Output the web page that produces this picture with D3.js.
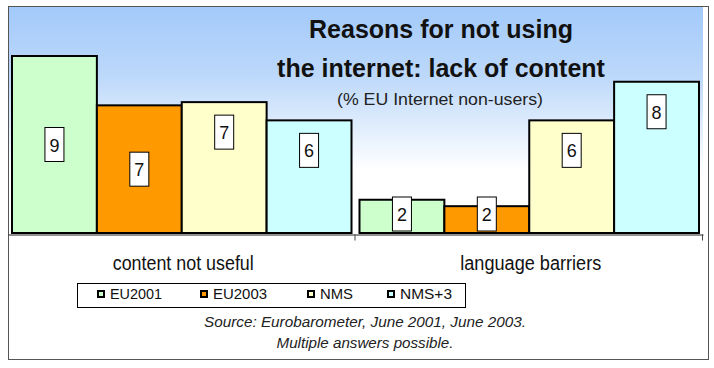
<!DOCTYPE html>
<html>
<head>
<meta charset="utf-8">
<script src="https://cdn.jsdelivr.net/npm/d3@7"></script>
<style>
  html, body { margin: 0; padding: 0; background: #fff; }
  svg { display: block; font-family: "Liberation Sans", Arial, sans-serif; }
</style>
</head>
<body>
<svg id="chart" width="714" height="368"></svg>
<script>
// ---- data ----
const categories = ["content not useful", "language barriers"];
const seriesNames = ["EU2001", "EU2003", "NMS", "NMS+3"];
const seriesColors = ["#ccffcc", "#ff9900", "#ffffcc", "#ccffff"];
// estimated underlying values (labels show them rounded)
const contentNotUseful = [9.0, 6.7, 6.85, 6.0];
const languageBarriers = [2.3, 2.0, 6.0, 7.8];
const seriesValues = [contentNotUseful, languageBarriers];
const titleLines = ["Reasons for not using", "the internet: lack of content"];
const subtitle = "(% EU Internet non-users)";
const sourceLines = ["Source: Eurobarometer, June 2001, June 2003.", "Multiple answers possible."];

const svg = d3.select("#chart");

// outer frame
svg.append("rect").attr("x", 8.5).attr("y", 6.5).attr("width", 700).attr("height", 353)
  .attr("fill", "#fff").attr("stroke", "#555").attr("stroke-width", 1);

// plot area gradient
const defs = svg.append("defs");
const grad = defs.append("linearGradient").attr("id", "bg").attr("x1", 0).attr("y1", 0).attr("x2", 0).attr("y2", 1);
grad.append("stop").attr("offset", "0%").attr("stop-color", "#a3cafa");
grad.append("stop").attr("offset", "30%").attr("stop-color", "#bcd8fa");
grad.append("stop").attr("offset", "72%").attr("stop-color", "#ffffff");
grad.append("stop").attr("offset", "100%").attr("stop-color", "#ffffff");

const plot = { left: 9, right: 703, top: 7, bottom: 234 };
svg.append("rect").attr("x", plot.left).attr("y", plot.top)
  .attr("width", plot.right - plot.left).attr("height", plot.bottom - plot.top)
  .attr("fill", "url(#bg)");

// scales
const x0 = d3.scaleBand().domain(categories).range([8, 703]).paddingInner(0).paddingOuter(0);
const x1 = d3.scaleBand().domain(seriesNames).range([4, x0.bandwidth() - 4]).padding(0);
const y = d3.scaleLinear().domain([0.75, 9]).range([233, 56]);
const color = d3.scaleOrdinal().domain(seriesNames).range(seriesColors);

// title
svg.append("g").selectAll("text").data(titleLines).join("text")
  .attr("x", 441).attr("y", (d, i) => 38 + i * 39)
  .attr("text-anchor", "middle").attr("font-weight", "bold").attr("font-size", 25)
  .attr("fill", "#111").text(d => d);
svg.append("text").attr("x", 440).attr("y", 105).attr("text-anchor", "middle")
  .attr("font-size", 16.5).attr("fill", "#222").attr("textLength", 206)
  .attr("lengthAdjust", "spacingAndGlyphs").text(subtitle);

// bars
const groups = svg.append("g").selectAll("g").data(categories).join("g")
  .attr("transform", d => `translate(${x0(d)},0)`);

const barData = (c, ci) => seriesNames.map((s, si) => ({ s, si, v: seriesValues[ci][si] }));

groups.each(function(c, ci) {
  const g = d3.select(this);
  const data = barData(c, ci);
  g.selectAll("rect.bar").data(data).join("rect").attr("class", "bar")
    .attr("x", d => x1(d.s)).attr("width", x1.bandwidth())
    .attr("y", d => y(d.v)).attr("height", d => y.range()[0] - y(d.v))
    .attr("fill", d => color(d.s)).attr("stroke", "#000").attr("stroke-width", 2);

  const boxW = 19, boxH = 34;
  const labelCenter = d => {
    const top = y(d.v), bottom = y.range()[0];
    let c = d.si < 2 ? (top + bottom) / 2 : top + 30;
    if (c + boxH / 2 > bottom - 2) c = bottom - 2 - boxH / 2;
    return c;
  };
  const lab = g.selectAll("g.lab").data(data).join("g").attr("class", "lab")
    .attr("transform", d => `translate(${x1(d.s) + x1.bandwidth() / 2},${labelCenter(d)})`);
  lab.append("rect").attr("x", -boxW / 2).attr("y", -boxH / 2).attr("width", boxW).attr("height", boxH)
    .attr("fill", "#fff").attr("stroke", "#000").attr("stroke-width", 1);
  lab.append("text").attr("text-anchor", "middle").attr("y", 7).attr("font-size", 19)
    .attr("fill", "#111").attr("textLength", 10).attr("lengthAdjust", "spacingAndGlyphs")
    .text(d => d3.format(".0f")(d.v));
});

// x axis
const axis = svg.append("g").attr("transform", "translate(0,234.5)")
  .call(d3.axisBottom(x0).tickSize(0).tickFormat(""));
axis.select(".domain").attr("stroke", "#222");
axis.selectAll(".tick").remove();
axis.selectAll("line.bound").data(categories).join("line").attr("class", "bound")
  .attr("x1", d => x0(d) + x0.bandwidth() - 0.5).attr("x2", d => x0(d) + x0.bandwidth() - 0.5)
  .attr("y1", 0).attr("y2", 6).attr("stroke", "#444").attr("stroke-width", 1);

// category labels
svg.append("g").selectAll("text").data(categories).join("text")
  .attr("x", d => x0(d) + x0.bandwidth() / 2 + 1.5).attr("y", 270)
  .attr("text-anchor", "middle").attr("font-size", 19.5).attr("fill", "#111")
  .attr("textLength", 141).attr("lengthAdjust", "spacingAndGlyphs").text(d => d);

// legend
svg.append("rect").attr("x", 77.5).attr("y", 283.5).attr("width", 388).attr("height", 24)
  .attr("fill", "#fff").attr("stroke", "#000").attr("stroke-width", 1);
const legendX = [97, 200, 307, 387];
const legendW = [52, 54, 33, 52];
const leg = svg.append("g").selectAll("g").data(seriesNames).join("g")
  .attr("transform", (d, i) => `translate(${legendX[i]},0)`);
leg.append("rect").attr("x", 1).attr("y", 291).attr("width", 6).attr("height", 6)
  .attr("fill", d => color(d)).attr("stroke", "#000").attr("stroke-width", 2);
leg.append("text").attr("x", 13).attr("y", 298.5).attr("font-size", 15.5).attr("fill", "#111")
  .attr("textLength", (d, i) => legendW[i]).attr("lengthAdjust", "spacingAndGlyphs").text(d => d);

// source
svg.append("g").selectAll("text").data(sourceLines).join("text")
  .attr("x", 365).attr("y", (d, i) => 327 + i * 21).attr("text-anchor", "middle")
  .attr("font-size", 15.5).attr("font-style", "italic").attr("fill", "#222")
  .attr("textLength", (d, i) => [322, 177][i]).attr("lengthAdjust", "spacingAndGlyphs").text(d => d);
</script>
</body>
</html>
